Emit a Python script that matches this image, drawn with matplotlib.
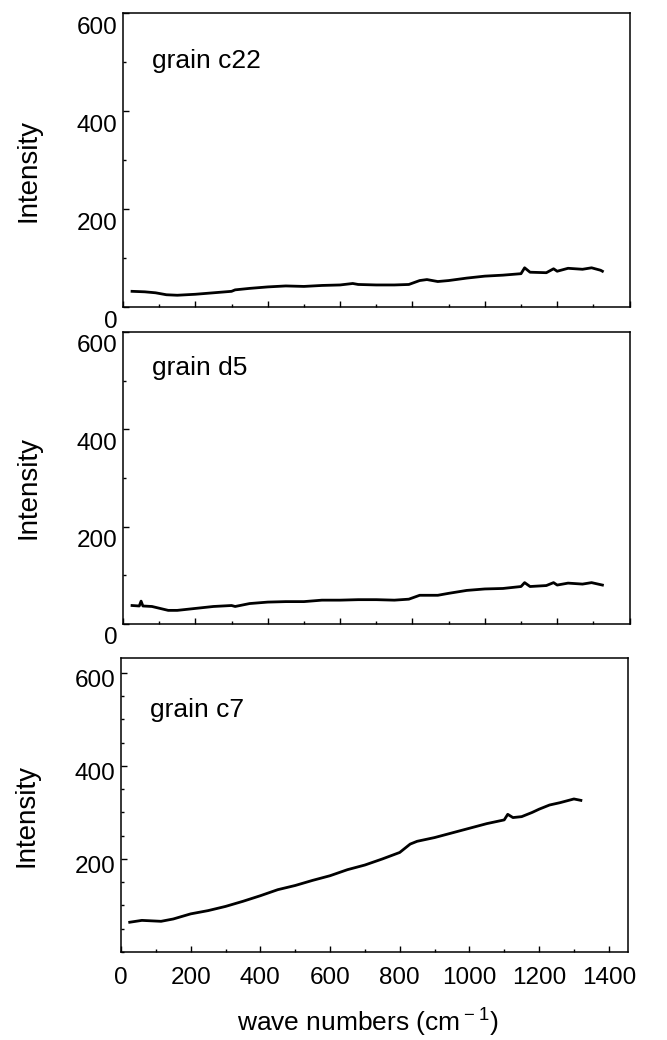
import matplotlib
matplotlib.use("Agg")
import matplotlib.pyplot as plt
import matplotlib.transforms as mtransforms
from matplotlib.ticker import MultipleLocator

plt.rcParams['font.family'] = ['Liberation Sans', 'DejaVu Sans']
plt.rcParams['mathtext.fontset'] = 'custom'
plt.rcParams['mathtext.rm'] = 'Liberation Sans'

# grain c22
x_c22 = [25, 60, 90, 120, 150, 200, 250, 300, 310, 350, 400, 450, 500, 550, 600, 635, 650,
         700, 750, 790, 820, 840, 870, 900, 950, 1000, 1050, 1100, 1110, 1125, 1170, 1190,
         1200, 1230, 1270, 1295, 1320, 1325]
y_c22 = [32, 31, 29, 25, 24, 26, 29, 32, 35, 38, 41, 43, 42, 44, 45, 48, 46,
         45, 45, 46, 54, 56, 52, 54, 59, 63, 65, 68, 80, 71, 70, 78,
         73, 79, 77, 80, 75, 73]

# grain d5
x_d5 = [25, 45, 50, 55, 80, 125, 150, 200, 250, 300, 310, 350, 400, 450, 500, 550, 600, 650,
        700, 750, 790, 820, 870, 900, 950, 1000, 1050, 1100, 1110, 1125, 1170, 1190,
        1200, 1230, 1270, 1295, 1325]
y_d5 = [38, 37, 47, 37, 36, 28, 28, 32, 36, 38, 36, 42, 45, 46, 46, 49, 49, 50,
        50, 49, 51, 59, 59, 63, 69, 72, 73, 77, 85, 77, 79, 85,
        80, 84, 82, 85, 80]

# grain c7
x_c7 = [25, 60, 115, 150, 200, 250, 300, 350, 400, 450, 500, 550, 600, 650, 700, 750, 800,
        830, 850, 900, 950, 1000, 1050, 1100, 1110, 1125, 1150, 1180, 1200, 1230, 1260,
        1300, 1320]
y_c7 = [64, 68, 66, 71, 82, 89, 98, 109, 121, 134, 143, 154, 164, 177, 187, 200, 214,
        232, 238, 246, 256, 266, 276, 284, 296, 289, 291, 300, 307, 316, 321,
        329, 326]

panels = [
    ("grain c22", x_c22, y_c22, [0.1844, 0.7048, 0.760, 0.2827], 600, 0.813),
    ("grain d5", x_d5, y_d5, [0.1844, 0.4000, 0.760, 0.2808], 600, 0.853),
    ("grain c7", x_c7, y_c7, [0.1814, 0.0846, 0.760, 0.2827], 632, 0.800),
]

fig = plt.figure(figsize=(6.67, 10.4), dpi=100)

for i, (name, xs, ys, rect, ytop, ty) in enumerate(panels):
    ax = fig.add_axes(rect)
    ax.plot(xs, ys, color='black', lw=2.0)
    last = i == 2
    ax.set_xlim(0, 1455 if last else 1401)
    ax.set_ylim(0, ytop)
    ax.xaxis.set_major_locator(MultipleLocator(200))
    ax.xaxis.set_minor_locator(MultipleLocator(100))
    if last:
        ax.set_yticks([200, 400, 600])
        ax.yaxis.set_minor_locator(MultipleLocator(50))
    else:
        ax.set_yticks([0, 200, 400, 600])
        ax.yaxis.set_minor_locator(MultipleLocator(100))
    ax.tick_params(which='both', direction='in', top=False, right=False, labelsize=17.5)
    ax.tick_params(which='major', length=4.5, width=1)
    ax.tick_params(which='minor', length=2.5, width=1)
    ax.tick_params(axis='x', pad=11)
    ax.tick_params(axis='y', pad=4)
    if not last:
        ax.tick_params(axis='x', labelbottom=False)
    for sp in ax.spines.values():
        sp.set_linewidth(1.1)
    off = mtransforms.ScaledTranslation(0, -(6 if last else 12) / 100, fig.dpi_scale_trans)
    for lab in ax.get_yticklabels():
        lab.set_transform(lab.get_transform() + off)
    ax.text(0.058, ty, name, transform=ax.transAxes, fontsize=19, ha='left', va='baseline')
    ax.text(-0.187, 0.466, "Intensity", transform=ax.transAxes, fontsize=20,
            rotation=90, ha='center', va='center')

fig.text(368 / 667, 1 - 1022 / 1040, r"wave numbers (cm$^{\rm -1}$)", fontsize=19,
         ha='center', va='center')

fig.savefig("out.png", dpi=100)
